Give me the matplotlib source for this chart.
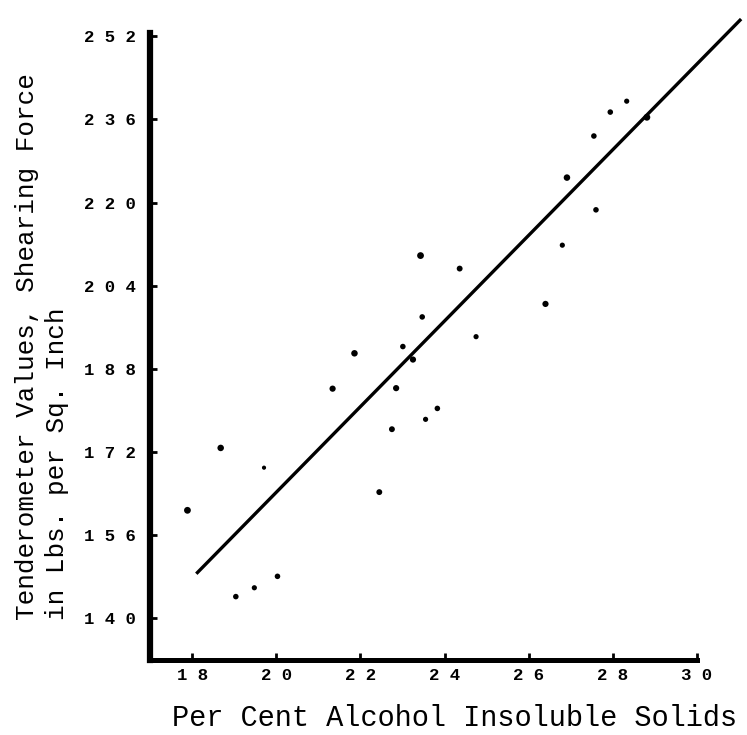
import matplotlib
matplotlib.use("Agg")
import matplotlib.pyplot as plt

# alcohol insoluble solids (%) vs tenderometer shear force
ais = [17.89, 18.68, 19.71, 19.04, 19.48, 20.03, 21.34, 21.86, 22.45, 22.75,
       22.85, 23.01, 23.25, 23.55, 23.83, 23.43, 23.47, 24.36, 24.75, 26.40,
       26.80, 26.91, 27.60, 27.55, 27.94, 28.33, 28.81]
shear = [160.8, 172.8, 169.0, 144.2, 145.9, 148.1, 184.2, 191.0, 164.3, 176.4,
         184.3, 192.3, 189.8, 178.3, 180.4, 209.8, 198.0, 207.3, 194.2, 200.5,
         211.8, 224.8, 218.6, 232.8, 237.4, 239.5, 236.4]
dot_size = [24, 22, 9, 16, 14, 16, 20, 22, 18, 18,
            20, 16, 20, 14, 16, 24, 16, 18, 14, 20,
            14, 22, 16, 16, 16, 14, 24]

# fitted regression line endpoints
fit_x = [18.1, 31.05]
fit_y = [148.6, 255.3]

x_ticks = [18, 20, 22, 24, 26, 28, 30]
y_ticks = [140, 156, 172, 188, 204, 220, 236, 252]

fig = plt.figure(figsize=(7.47, 7.35), dpi=100)
ax = fig.add_axes([0.2008, 0.102, 0.7322, 0.853])

ax.scatter(ais, shear, s=dot_size, color="black", zorder=3, linewidths=0)
ax.plot(fit_x, fit_y, color="black", lw=2.4, clip_on=False, solid_capstyle="butt")

ax.set_xlim(17, 30)
ax.set_ylim(132, 252.6)

ax.spines["top"].set_visible(False)
ax.spines["right"].set_visible(False)
ax.spines["left"].set_linewidth(4.5)
ax.spines["bottom"].set_linewidth(3.6)

ax.set_xticks(x_ticks)
ax.set_xticklabels([" ".join(str(v)) for v in x_ticks])
ax.set_yticks(y_ticks)
ax.set_yticklabels([" ".join(str(v)) for v in y_ticks])
ax.tick_params(axis="both", direction="in", width=2, length=5,
               labelsize=12.5)
ax.tick_params(axis="y", pad=10)
ax.tick_params(axis="x", pad=6)
for lab in ax.get_xticklabels() + ax.get_yticklabels():
    lab.set_family("Liberation Mono")
    lab.set_fontweight("bold")

fig.text(0.056, 0.156, "Tenderometer Values, Shearing Force\nin Lbs. per Sq. Inch",
         rotation=90, ha="center", va="bottom", multialignment="left",
         family="Liberation Mono", fontsize=18.7, linespacing=1.3)
fig.text(455 / 747, 1 - 718 / 735, "Per Cent Alcohol Insoluble Solids",
         ha="center", va="center", family="Liberation Mono", fontsize=20.6)

fig.savefig("out.png", dpi=100)
